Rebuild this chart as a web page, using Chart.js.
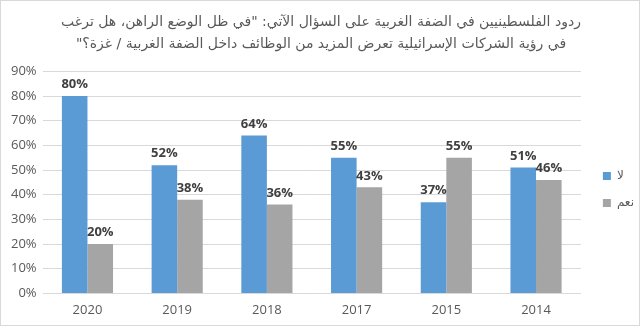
<!DOCTYPE html>
<html>
<head>
<meta charset="utf-8">
<script src="https://cdn.jsdelivr.net/npm/chart.js@4.4.0/dist/chart.umd.min.js"></script>
<style>
  html, body { margin: 0; padding: 0; background: #fff; }
  #box { width: 640px; height: 326px; box-sizing: border-box; border: 1px solid #d9d9d9; }
  #answersChart { direction: rtl; }
</style>
</head>
<body>
<div id="box"><canvas id="answersChart" width="638" height="324"></canvas></div>
<script>
var years = ['2020', '2019', '2018', '2017', '2015', '2014'];
var noValues = [80, 52, 64, 55, 37, 51];
var yesValues = [20, 38, 36, 43, 55, 46];
var titleLines = [
    'ردود الفلسطينيين في الضفة الغربية على السؤال الآتي: "في ظل الوضع الراهن، هل ترغب',
    'في رؤية الشركات الإسرائيلية تعرض المزيد من الوظائف داخل الضفة الغربية / غزة؟"'
];

// value labels drawn above each bar
var barLabels = {
    id: 'barLabels',
    afterDatasetsDraw: function(chart) {
        var ctx = chart.ctx;
        ctx.save();
        ctx.font = 'bold 13px "Open Sans", "DejaVu Sans", sans-serif';
        ctx.fillStyle = '#404040';
        ctx.textAlign = 'center';
        ctx.textBaseline = 'bottom';
        chart.data.datasets.forEach(function(ds, i) {
            var meta = chart.getDatasetMeta(i);
            meta.data.forEach(function(bar, j) {
                ctx.fillText(ds.data[j] + '%', bar.x, bar.y - 5);
            });
        });
        ctx.restore();
    }
};

// push the legend a bit away from the plot and down toward the middle
var legendSpot = {
    id: 'legendSpot',
    afterLayout: function(chart) {
        var lg = chart.legend;
        var w = lg.right - lg.left;
        var h = lg.bottom - lg.top;
        lg.left = chart.chartArea.right + 7;
        lg.right = lg.left + w;
        lg.top = 154;
        lg.bottom = lg.top + h;
    }
};

var ctx = document.getElementById('answersChart').getContext('2d');
var answersChart = new Chart(ctx, {
    type: 'bar',
    data: {
        labels: years,
        datasets: [{
            label: 'لا',
            data: noValues,
            backgroundColor: '#5b9bd5'
        }, {
            label: 'نعم',
            data: yesValues,
            backgroundColor: '#a5a5a5'
        }]
    },
    options: {
        responsive: false,
        animation: false,
        layout: { padding: { left: 4, right: 2, bottom: -2 } },
        datasets: { bar: { categoryPercentage: 0.57, barPercentage: 1.0 } },
        plugins: {
            title: {
                display: true,
                text: titleLines,
                color: '#595959',
                font: { family: '"DejaVu Sans", sans-serif', size: 14, weight: 'normal', lineHeight: 1.55 },
                padding: { top: 11, bottom: 16 }
            },
            legend: {
                position: 'right',
                align: 'start',
                labels: {
                    boxWidth: 8,
                    boxHeight: 8,
                    padding: 15,
                    color: '#595959',
                    font: { family: '"DejaVu Sans", sans-serif', size: 12 }
                }
            },
            tooltip: { enabled: false }
        },
        scales: {
            x: {
                grid: { display: false, drawTicks: false },
                border: { display: false },
                ticks: { color: '#595959', font: { family: '"Open Sans", sans-serif', size: 13 }, padding: 9 }
            },
            y: {
                min: 0,
                max: 90,
                grid: { color: '#d9d9d9', drawTicks: false },
                border: { display: false },
                ticks: {
                    stepSize: 10,
                    color: '#595959',
                    padding: 6,
                    font: { family: '"Open Sans", sans-serif', size: 13 },
                    callback: function(v) { return v + '%'; }
                }
            }
        }
    },
    plugins: [barLabels, legendSpot]
});
</script>
</body>
</html>
